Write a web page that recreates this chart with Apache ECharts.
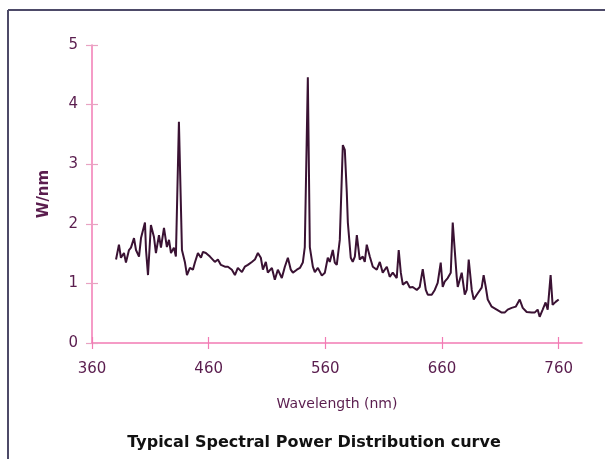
<!DOCTYPE html>
<html>
<head>
<meta charset="utf-8">
<script src="https://cdn.jsdelivr.net/npm/echarts@6/dist/echarts.min.js"></script>
<style>
html,body{margin:0;padding:0;background:#fff;}
#c{width:605px;height:459px;}
</style>
</head>
<body>
<div id="c"></div>
<script>
var wavelength = [380.6,383.1,384.8,387.4,389.1,391.7,393.4,396.0,397.7,400.3,402.0,405.4,406.3,408.0,410.5,413.1,414.8,417.4,419.1,421.7,424.2,426.0,427.7,430.2,431.9,434.5,437.1,439.7,441.4,443.9,446.5,448.2,450.8,453.4,455.1,457.6,461.1,462.8,465.3,467.9,470.5,473.9,476.5,479.9,482.5,485.0,488.5,491.0,493.6,497.0,499.6,502.2,504.7,506.5,509.0,510.7,514.2,516.7,519.3,522.7,525.3,527.9,530.4,532.2,535.6,538.2,540.7,542.4,545.0,546.7,549.3,551.0,553.6,557.0,559.6,562.1,563.8,566.4,568.1,569.8,572.4,575.0,576.7,578.4,579.3,581.8,583.5,585.3,587.0,589.5,592.1,593.8,595.5,598.1,600.7,604.1,606.7,609.2,612.7,615.2,617.8,621.2,622.9,624.7,626.4,629.8,632.4,634.9,638.4,640.9,643.5,646.1,647.8,651.2,653.8,656.3,658.9,660.6,662.3,664.9,667.5,669.2,672.6,673.5,676.9,679.5,681.2,682.9,685.5,687.2,689.8,691.5,694.0,695.7,697.5,699.2,702.6,706.9,711.2,713.7,716.3,719.7,723.2,726.6,729.2,732.6,736.9,739.4,742.0,743.7,746.3,748.8,750.6,753.1,754.8,757.4,760.0];
var power = [1.40,1.65,1.43,1.51,1.35,1.56,1.60,1.76,1.56,1.45,1.76,2.02,1.56,1.14,1.98,1.78,1.51,1.81,1.60,1.93,1.61,1.73,1.51,1.60,1.45,3.71,1.56,1.35,1.14,1.26,1.23,1.35,1.51,1.43,1.53,1.51,1.45,1.43,1.36,1.40,1.31,1.28,1.28,1.23,1.14,1.26,1.19,1.28,1.31,1.36,1.40,1.51,1.43,1.23,1.36,1.18,1.26,1.06,1.23,1.09,1.28,1.43,1.23,1.18,1.23,1.26,1.35,1.61,4.46,1.61,1.28,1.19,1.26,1.13,1.18,1.43,1.36,1.56,1.35,1.31,1.73,3.32,3.24,2.52,2.02,1.43,1.36,1.45,1.81,1.40,1.45,1.36,1.65,1.45,1.28,1.23,1.36,1.18,1.28,1.11,1.18,1.09,1.56,1.18,0.98,1.03,0.93,0.94,0.89,0.94,1.24,0.89,0.81,0.81,0.89,1.01,1.35,0.94,1.03,1.09,1.18,2.02,1.11,0.94,1.18,0.81,0.89,1.40,0.89,0.73,0.81,0.78,0.93,1.14,0.94,0.73,0.61,0.56,0.51,0.51,0.56,0.59,0.61,0.73,0.59,0.52,0.51,0.51,0.56,0.44,0.56,0.68,0.56,1.14,0.64,0.69,0.73];
var xTicks = [360,460,560,660,760];
var yTicks = [0,1,2,3,4,5];
var titleText = 'Typical Spectral Power Distribution curve';
var xName = 'Wavelength (nm)';
var yName = 'W/nm';

var labelColor = '#5a1d4e';
var axisPink = '#f27bb4';
var tickColor = '#e8a3c2';
var fontF = '"DejaVu Sans", "Noto Sans", sans-serif';

var chart = echarts.init(document.getElementById('c'), null, {renderer:'canvas'});
var pts = wavelength.map(function(w,i){return [w, power[i]];});
chart.setOption({
  animation:false,
  backgroundColor:'#fff',
  title:{text:titleText,left:309,top:430,textAlign:'center',
    textStyle:{fontFamily:fontF,fontWeight:'bold',fontSize:16,color:'#111'}},
  graphic:[
    {type:'line',shape:{x1:8,y1:10,x2:605,y2:10},style:{stroke:'#4d4a68',lineWidth:2}},
    {type:'line',shape:{x1:8,y1:10,x2:8,y2:459},style:{stroke:'#4d4a68',lineWidth:2}}
  ],
  grid:{left:92,right:23,top:45,bottom:116,containLabel:false},
  xAxis:[{
    type:'value',min:360,max:780,interval:100,
    name:xName,nameLocation:'middle',nameGap:54,
    nameTextStyle:{fontFamily:fontF,fontSize:14,color:labelColor},
    axisLine:{show:true,lineStyle:{color:axisPink,width:1.5}},
    axisTick:{show:true,length:6,customValues:xTicks,lineStyle:{color:axisPink,width:1.2}},
    axisLabel:{customValues:xTicks,margin:19,fontFamily:fontF,fontSize:15,color:labelColor},
    splitLine:{show:false}
  },{
    type:'value',min:360,max:780,interval:100,position:'bottom',
    axisLine:{show:false},
    axisTick:{show:true,inside:true,length:6,customValues:xTicks,lineStyle:{color:axisPink,width:1.2}},
    axisLabel:{show:false},splitLine:{show:false}
  }],
  yAxis:[{
    type:'value',min:0,max:5,interval:1,
    name:yName,nameLocation:'middle',nameGap:40,
    nameTextStyle:{fontFamily:fontF,fontSize:15,fontWeight:'bold',color:labelColor},
    axisLine:{show:true,lineStyle:{color:axisPink,width:1.5}},
    axisTick:{show:true,length:6,lineStyle:{color:tickColor,width:1.2}},
    axisLabel:{margin:14,fontFamily:fontF,fontSize:15,color:labelColor},
    splitLine:{show:false}
  },{
    type:'value',min:0,max:5,interval:1,position:'left',
    axisLine:{show:false},
    axisTick:{show:true,inside:true,length:6,lineStyle:{color:tickColor,width:1.2}},
    axisLabel:{show:false},splitLine:{show:false}
  }],
  series:[{
    type:'line',data:pts,showSymbol:false,symbol:'none',
    xAxisIndex:0,yAxisIndex:0,
    lineStyle:{color:'#3a1233',width:2},
    z:5
  }]
});
</script>
</body>
</html>
